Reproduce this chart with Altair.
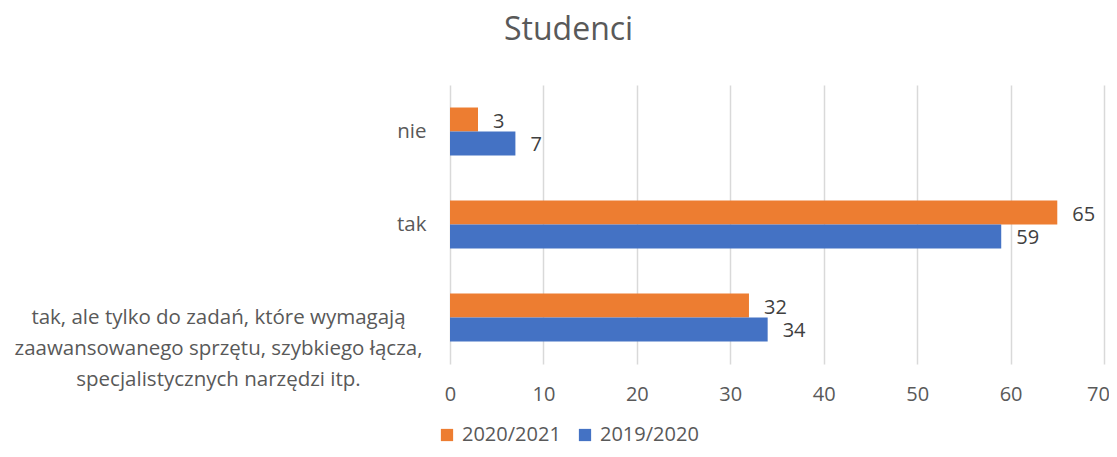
import altair as alt
import pandas as pd

categories = ["nie", "tak", "tak, ale tylko do zadań, które wymagają|zaawansowanego sprzętu, szybkiego łącza,|specjalistycznych narzędzi itp."]
series = ["2020/2021", "2019/2020"]
values_2020_2021 = [3, 65, 32]
values_2019_2020 = [7, 59, 34]
colors = ["#ED7D31", "#4472C4"]
x_ticks = [0, 10, 20, 30, 40, 50, 60, 70]

rows = []
for c, v in zip(categories, values_2020_2021):
    rows.append({"kategoria": c, "rok": series[0], "wartosc": v})
for c, v in zip(categories, values_2019_2020):
    rows.append({"kategoria": c, "rok": series[1], "wartosc": v})
df = pd.DataFrame(rows)

FONT = "Open Sans"
GREY = "#595959"
long_cat = categories[2]

y_enc = alt.Y(
    "kategoria:N",
    sort=categories,
    scale=alt.Scale(paddingInner=0.484, paddingOuter=0.242),
    axis=alt.Axis(
        title=None,
        domain=False,
        ticks=False,
        labelExpr="split(datum.label, '|')",
        labelFont=FONT,
        labelFontSize=20.5,
        labelColor=GREY,
        labelLineHeight=31,
        labelAlign=alt.condition(f"datum.value == '{long_cat}'", alt.value("center"), alt.value("right")),
        labelPadding=alt.condition(f"datum.value == '{long_cat}'", alt.value(232), alt.value(24)),
        labelLimit=500,
    ),
)

x_enc = alt.X(
    "wartosc:Q",
    scale=alt.Scale(domain=[0, 70], nice=False),
    axis=alt.Axis(
        title=None,
        values=x_ticks,
        domain=False,
        ticks=False,
        grid=True,
        gridColor="#D9D9D9",
        gridWidth=1.5,
        labelFont=FONT,
        labelFontSize=20,
        labelColor=GREY,
        labelPadding=20,
        labelFlush=False,
        labelOffset=alt.condition("datum.value == 70", alt.value(-6), alt.value(0)),
    ),
)

color_enc = alt.Color(
    "rok:N",
    sort=series,
    scale=alt.Scale(domain=series, range=colors),
    legend=alt.Legend(
        title=None,
        orient="none",
        direction="horizontal",
        legendX=-13,
        legendY=340,
        symbolType="square",
        symbolSize=150,
        symbolStrokeWidth=0,
        labelFont=FONT,
        labelFontSize=20,
        labelColor=GREY,
        labelOffset=5,
        columnPadding=14,
    ),
)

yoff = alt.YOffset("rok:N", sort=series, scale=alt.Scale(domain=series, paddingInner=0, paddingOuter=0))

base = alt.Chart(df).encode(y=y_enc, x=x_enc, yOffset=yoff)

bars = base.mark_bar(size=24).encode(color=color_enc)
labels = base.mark_text(align="left", baseline="middle", dx=15, dy=2, font=FONT, fontSize=20, color="#404040").encode(
    text="wartosc:Q"
)

chart = (
    (bars + labels)
    .properties(
        width=654,
        height=279,
        title=alt.TitleParams(
            "Studenci",
            font=FONT,
            fontSize=32,
            fontWeight="normal",
            color=GREY,
            anchor="start",
            frame="group",
            dx=54,
            offset=38,
        ),
        autosize=alt.AutoSizeParams(type="none"),
        padding={"left": 442, "top": 77, "right": 5, "bottom": 85},
    )
    .configure_view(stroke=None)
)

chart.save("out.html", embed_options={"renderer": "svg", "actions": False})
